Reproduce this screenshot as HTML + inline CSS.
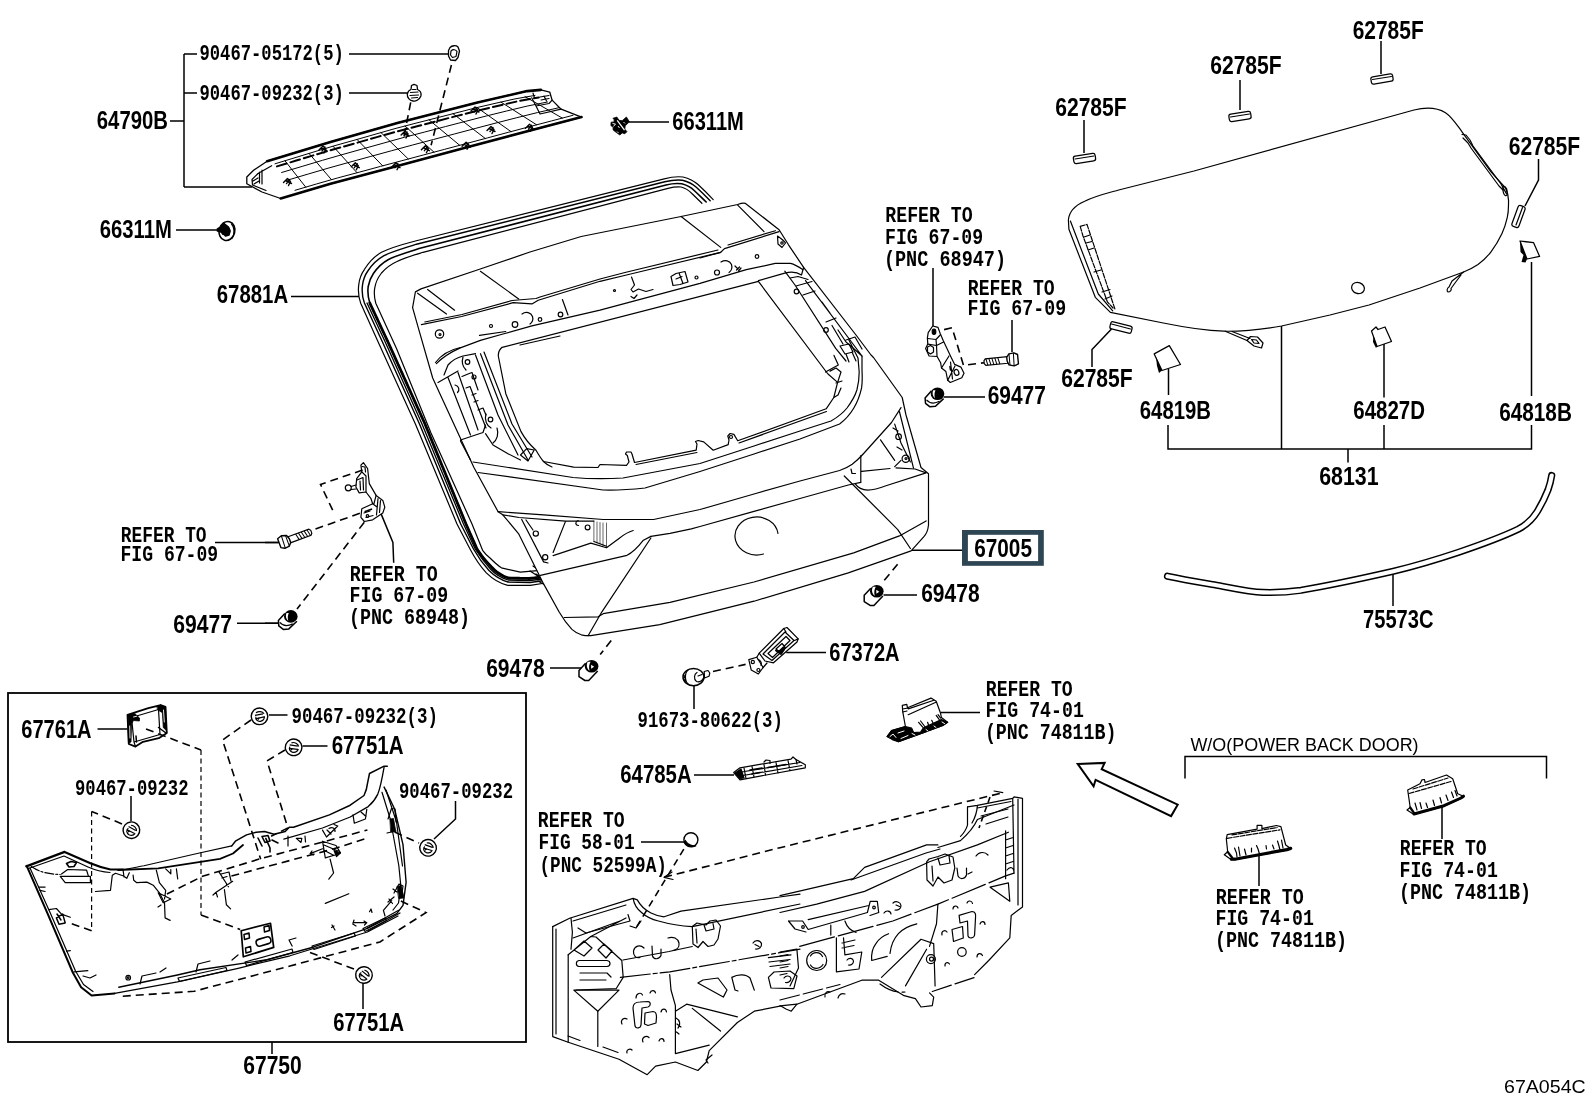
<!DOCTYPE html>
<html><head><meta charset="utf-8"><title>67A054C</title>
<style>
html,body{margin:0;padding:0;background:#fff;}
body{position:relative;width:1592px;height:1099px;overflow:hidden;font-family:"Liberation Sans",sans-serif;}
svg{display:block;position:absolute;left:0;top:0}
text{fill:#000;}
.b{font-family:"Liberation Sans",sans-serif;font-weight:bold;}
.s{font-family:"Liberation Mono",monospace;font-weight:bold;}
.r{font-family:"Liberation Sans",sans-serif;}
.l{fill:none;stroke:#000;stroke-width:1.5;}
.a{fill:none;stroke:#000;stroke-width:1.2;stroke-linejoin:round;stroke-linecap:round;}
.a2{fill:none;stroke:#000;stroke-width:1.6;stroke-linejoin:round;stroke-linecap:round;}
.d{fill:none;stroke:#000;stroke-width:1.6;stroke-dasharray:8 5;}
.w{fill:#fff;stroke:#000;stroke-width:1.25;stroke-linejoin:round;}
.k{fill:#000;stroke:none;}
</style></head>
<body>
<svg width="1592" height="1099" viewBox="0 0 1592 1099">
<rect x="0" y="0" width="1592" height="1099" fill="#fff"/>
<!-- 05_defs.svg -->
<defs>
<g id="pclip">
<circle r="8.3" fill="#fff" stroke="#000" stroke-width="1.4"/>
<path d="M-3.500,-3.500C-1,-5.500 3,-5 4.500,-2.500M-4.500,-1L3.500,-2.500M-4,2.500L4.500,0.500M-3.500,0.500C-4.500,3 -2,5.500 1,5C3.500,4.500 5,2.500 5,0" fill="none" stroke="#000" stroke-width="1.2"/>
<path d="M-3,2L0,1.300L-1,4Z" fill="#000"/>
</g>
<g id="grom">
<path d="M-6,-3L-12.600,4.100L-12.600,10.400L-6.700,14.200L-2.900,14.200L6.100,4.800" fill="#fff" stroke="#000" stroke-width="1.500" stroke-linejoin="round"/>
<ellipse rx="6.800" ry="6.300" fill="#000"/>
<path d="M-3.800,-4.500C-5.500,-2 -5,2.500 -2,4.500C-3,1.500 -2.500,-2 -1,-4.500Z" fill="#fff"/>
<path d="M-0.500,-1.500L2.500,0.500L-0.500,2.500Z" fill="#fff"/>
</g>
<g id="grom2">
<path d="M-6,-3L-12.400,4.100L-12,9.500L-7.500,13L-2,12.500L6.100,4.800" fill="#fff" stroke="#000" stroke-width="1.500" stroke-linejoin="round"/>
<path d="M-11,6C-8,9.500 -3,10 2,7.500" fill="none" stroke="#000" stroke-width="1.200"/>
<ellipse rx="6.800" ry="6.300" fill="#000"/>
<path d="M-4.300,-3.500C-5.500,-1 -5,2.500 -2.500,4.500C-3.500,1.500 -3,-1.500 -2,-3.500Z" fill="#fff"/>
</g>
<g id="bolt">
<path d="M5,-3.300L27,-3.300L28.500,-1.500L28.500,1.500L27,3.300L5,3.300Z" fill="#fff" stroke="#000" stroke-width="1.200"/>
<path d="M13,-3.300L14.500,3.300M16,-3.300L17.500,3.300M19,-3.300L20.500,3.300M22,-3.300L23.500,3.300M25,-3.300L26.500,3.300" stroke="#000" stroke-width="1" fill="none"/>
<path d="M-5.500,-5L-1,-6.500L4,-5L5.500,-1L5.500,3L3,6L-2,6.500L-5.500,4.500Z" fill="#fff" stroke="#000" stroke-width="1.400" stroke-linejoin="round"/>
<path d="M-1,-6.500L-1.500,6.500M3,-5.500L3,6" stroke="#000" stroke-width="1" fill="none"/>
</g>
</defs>

<!-- 10_leaders.svg -->
<g id="leaders" class="l">
<path d="M184,54V187M184,54H197M184,93H197M170,121H184M184,187H252"/>
<path d="M349,54H448M349,93H408M176,230H218M629,122H669M291,296.5H359"/>
<path d="M1084,120V153M1240,80V110M1381,41V74M1538.5,159V180L1525,206M1092,367V349.5L1111.5,329"/>
<path d="M933,268V326M1012,320V352M943.5,397H985"/>
<path d="M1168.5,369V395M1168,425V449H1531.5V425M1531.5,396V262M1384,341V397.5M1384,425V449M1281.5,326V449M1348,449V462.5"/>
<path d="M911,550.3H962M883.5,595H917M1393,575V606M215,542.5H279M237,623.3H279M550,668H582"/>
<path d="M694,685V709M694,775H734M941,712.5H980M641,842H684"/>
<path d="M1185,778.500V756.500H1546.500V778.500M1259,850V886M1442,804V839"/>
<path d="M272,1042V1054M97.5,729H127.5M269,715H287.5M302.5,746H327.5M131,796V821M455.5,801V819L434,839M363,982.5V1009"/>
</g>
<rect x="8" y="693" width="518" height="349" fill="none" stroke="#000" stroke-width="1.8"/>
<rect x="962" y="530" width="81.800" height="35.800" fill="#2e4553"/><rect x="967.900" y="534.800" width="70.200" height="26.300" fill="#fff"/>

<!-- 20_glass.svg -->
<g id="glass" class="a">
<!-- outer outline -->
<path d="M1068.4,220C1069,212 1074,206 1084.7,201.3C1095,196 1108,193 1118.7,190L1194,171L1414,110C1424,107.5 1436,107 1445.5,112.7C1452,117 1457,125 1462,131.8L1491,171.8L1505.5,188C1508,193 1508.8,198 1508.5,202.7C1508.6,208 1508.3,213 1507.3,217.3C1506,223 1504.5,228 1502,233.6C1499,240 1495.5,246 1491,251.8C1487,257 1483,261 1478,264.5C1473.5,267.5 1469,270 1463.6,272L1420,288L1369,305L1330,315L1281.5,326C1262,329.5 1243,331.5 1223.7,331.2C1203,330.5 1183,327 1163.3,323L1110.4,312.4L1095.3,297.3L1068.9,229.3Z"/>
<path d="M1070.4,221L1098.3,294L1112.7,310.8"/>
<!-- left inner strip -->
<path d="M1080.2,226.3L1087,224.4L1115,309.3M1080.2,226.3L1083,236L1107.4,301.8L1113,308" stroke-dasharray="5 1.5"/>
<path d="M1084,237L1090,235M1086,243L1092,241.5M1088,250L1094,248M1094,272L1101,270M1102,292L1110,289.5M1105,299L1112,296"/>
<!-- hole -->
<ellipse cx="1358" cy="288" rx="6.5" ry="5.5" transform="rotate(20 1358 288)"/>
<!-- right-edge wire -->
<path d="M1462,134.5L1466,135L1470,140L1473,146L1501,184L1506.4,193.6M1463,138L1468,143L1471,148L1499,186L1503,190"/>
<path d="M1503,186C1506,186 1508,190 1507,195C1505,197 1502.5,194 1503,186Z"/>
<!-- bottom-right wire -->
<path d="M1463.6,272L1452,281L1449,287M1461,275L1455,283L1451,288.5M1449,287C1447,288 1446.5,291 1448,292C1450,292 1452,290 1451,288.5"/>
<!-- bottom-left wire + connector -->
<path d="M1225.2,331.2L1247,340.5M1232,331.5L1250,338.5"/>
<path d="M1247,340.5L1250.5,336.5L1257.5,337L1263,343L1261.5,348L1254,346Z"/>
<path d="M1251.5,339.5L1256.5,340L1259,343.5L1254,343Z"/>
</g>
<g id="spacers" class="w">
<rect x="-11" y="-3.7" width="22" height="7.4" rx="2.2" transform="translate(1084.5,158.5) rotate(-9)"/>
<rect x="-11" y="-3.7" width="22" height="7.4" rx="2.2" transform="translate(1240,116.5) rotate(-9)"/>
<rect x="-11" y="-3.7" width="22" height="7.4" rx="2.2" transform="translate(1382,79) rotate(-10)"/>
<rect x="-11" y="-3.7" width="22" height="7.4" rx="2.2" transform="translate(1518.5,216.5) rotate(-70)"/>
<rect x="-11" y="-3.7" width="22" height="7.4" rx="2.2" transform="translate(1121,327.5) rotate(14)"/>
</g>
<g class="a">
<path d="M1075,159L1094,156M1230.500,117L1249.500,114M1372.500,79.500L1391.500,76.500M1516,225L1522.500,207.500M1111.500,324L1130.500,329"/>
</g>
<!-- glass clips -->
<g id="gclips">
<path class="w" d="M1154.2,353.9L1169.3,345.6L1180.5,364.5L1162,370.5Z"/>
<path class="k" d="M1156,357L1162,370.500L1159,373L1157,366Z"/>
<path class="w" d="M1371.5,331L1376,327L1378,329.5L1385,327L1391.500,341.500L1377,346.500Z"/>
<path class="k" d="M1373.5,335.5L1377,346.500L1376,348L1373,342Z"/>
<path class="w" d="M1520,241L1533.600,242.700L1539.600,256.400L1527,259Z"/>
<path class="k" d="M1520,241L1527,259L1525.500,262.500L1521.500,262L1523.500,255L1520.500,252Z"/>
</g>

<!-- 30_moulding.svg -->
<g id="moulding" fill="none" stroke-linecap="round" stroke-linejoin="round">
<path id="mpath" d="M1167.5,576.2C1183,579.500 1198,582 1214.300,584.800C1232,588 1248,592 1263,592.400C1277,592.800 1289,592 1301,590.300C1332,585 1362,578.500 1393.400,571.300C1415,566 1437,559.500 1458.500,552.300C1480,545 1500,538 1518.200,529.200C1527,524.500 1533,518.500 1537.200,511.600C1541.500,504.500 1545,497.500 1548,489.900C1549.800,485 1551,480 1551.700,475.500" stroke="#000" stroke-width="7.2"/>
<path d="M1167.5,576.2C1183,579.500 1198,582 1214.300,584.800C1232,588 1248,592 1263,592.400C1277,592.800 1289,592 1301,590.300C1332,585 1362,578.500 1393.400,571.300C1415,566 1437,559.500 1458.500,552.300C1480,545 1500,538 1518.200,529.200C1527,524.500 1533,518.500 1537.200,511.600C1541.500,504.500 1545,497.500 1548,489.900C1549.800,485 1551,480 1551.700,475.500" stroke="#fff" stroke-width="4.2"/>
</g>

<!-- 40_weatherstrip.svg -->
<g id="wstrip" class="a">
<!-- outer -->
<path d="M545.4,583L530.3,585.4L507.7,585.4C500,583.5 492,578.5 486.3,572.9C480,566 474.5,557.5 470,549L457,524L415.4,423.9L377.7,340.9L360.7,303.2C358.5,297 358,290 358.8,284.4C359.5,278 361.5,273.5 364.5,269.3C369,262 374,256.500 381.5,252.3C392,247 404,244 415.4,241L664.2,178.8C671,177 677,176.300 683,177C689,178.500 694,181 698,184.500C703.500,189.500 708.500,194.500 713.2,199.6"/>
<path d="M544.5,580.5L530,582.5L508,582C501,580 494,575.500 489,570.500C483,564 478,557 473.500,549L460.700,524L419.500,424L382,341L364.400,303C362.200,297 361.800,290.500 362.500,285.200C363.200,279.500 365,275 367.800,271C372,264.500 377,259.500 384,255.600C394,251 405,248 416.500,244.200L664.800,181.800C671,180.200 677,179.500 682.500,180.200C688,181.500 692.500,183.800 696.300,187.300C701.500,192 706,196.500 710.200,200.800" stroke-width="1.4"/>
<path d="M543,577L529,578.500L508.500,578C502,576 496.500,572.500 492,567.500C486.500,562 481.500,556 477,549L466,524L425,424L388,342L369.800,303C368,297.500 367.500,292 368.200,286.500C369,281.500 370.700,277.500 373.400,273.500C377.500,267.500 382,263 388.500,259.500C397.500,255 408,252.200 419,248.500L666,185C671.500,183.600 677,183.200 681.800,183.800C686.500,185 690.500,187 694.200,190.500C698.500,194.500 702.500,198.500 706.200,202" stroke-width="1.6"/>
<path d="M543,577L529,578.500L508.500,578C502,576 496.500,572.500 492,567.500C486.500,562 481.500,556 477,549L466,524L425,424L388,342L369.800,303" stroke-width="2.800" stroke-dasharray="7 1"/>
<path d="M543.500,579L529.500,580.500L508.200,580C501.500,578 495,574 490.500,569C485,563 480,556.500 475.200,549L463.500,524L422,424L385,341.500L367,303" stroke-width="1.300"/>
<!-- inner -->
<path d="M540.4,570.4L520.3,572.2L501.4,567.8C497,565 493.500,561.500 490,558C487,555.500 484.500,553 482.600,550.300L472,524L431,433L396.500,348.500L375.800,303.200C374.200,298 374,293 374.700,288.200C375.500,282.500 378,277.500 381.500,273C386,268 390.500,264.500 396.500,261.800C405,257.500 414,255 423,252.300L668,188.300C672.500,187.200 677,186.600 681,187C685.500,188 689,190.500 692.400,194L701.900,203.300"/>
<path d="M533,566L546,575M536,574L550,583M530,571L544,580M538,581L552,589" stroke-width="1.2"/>
</g>

<!-- 50_door_a.svg -->
<g id="door" class="a">
<!-- outline -->
<path fill="#fff" d="M415.4,291.9L421,288.9L479.5,269.3L530,252L581.2,236.5L681.1,216.5L737.7,204.5C740.500,203.500 743,203 745.2,203.3L779.1,229.7L788.5,244.8L803.6,267.4L856,335L871,355L873.5,357.5L902.2,397.5L906,415L921,467.5L928.5,473.7L928.5,525C928,530 926.500,534 923.7,536.8L911.1,550.9L848.3,572.9L754.1,601.2L659.8,624.7L590.8,635.7C587,635.800 584,635.500 581.3,634.8C577.500,633.500 574.500,631.800 571.9,629.4C567,624 563,618.500 559.3,612.2L543.6,583.9L518.5,533.6L502.8,514.8L498.1,511.7L473.8,467.2L439.9,393.7L432.7,378L417.6,325.3L412.6,307.7Z"/>
<!-- top panel creases -->
<path d="M417.6,293.2L446.5,314M427.6,289.5L454.6,310.2M480.4,271.3L518.7,298.9M681.1,216.5L720.7,247.4M737.7,205.2L764,231.6"/>
<!-- line A (double) : lower edge of top panel -->
<path d="M421.4,324.6L461.6,316.5L513,302.7L531.9,303.9L538.2,300.2L600,281.3L626.5,275L720.7,252.3L724.5,248.6L779.1,231.6"/>
<path d="M424.8,322L462,314.5L512,300.5L536,298.5L540,297L600,279L625,272.500L718,250M728,245L775.400,230.700"/>
<!-- band: small holes and marks -->
<path d="M479.5,335.3L505.8,331.5M562.400,299.500L568,315M560,336L520,345"/>
<circle cx="439.500" cy="334" r="4.200"/><circle cx="440" cy="334.500" r="1"/>
<circle cx="491" cy="326" r="1.500"/><circle cx="515" cy="324.500" r="2.800"/>
<path d="M522,314C526,311 531,312.500 532.500,316.500C533.500,320 532,322.500 530,324"/>
<circle cx="540" cy="319.500" r="1.800"/><circle cx="560.500" cy="314.500" r="2.300"/>
<circle cx="614.500" cy="290.500" r="1"/>
<path d="M631.500,277L634.500,285L631,289.500L633,292L638.500,289L646,291.500L653,289.500M631,296.500L634,298.500L637,295"/>
<path d="M671,276.500L676,273.500L685,271.500L688,282L680,284.500L673,285.500Z M679,273L683,283.500M676,279L682,276.500"/>
<circle cx="696.500" cy="277.500" r="1.500"/><circle cx="717" cy="272.500" r="2.500"/>
<path d="M721,262C725,259.500 730,260.500 731.500,264.500C732.500,268 731,271 729,272.500"/>
<path d="M735,266L738,269M736.500,270L739.500,267M741,268L738.500,271"/>
<circle cx="757" cy="256.500" r="1.800"/>
<path d="M777.500,236C781,238.500 784.500,241 785.500,243L782,247.500L778,244Z"/>
<circle cx="782" cy="243" r="1.200"/>
<!-- band lower line B -->
<path d="M436.4,363.6C443,357 451,352 460.3,347.9L480.4,340.4L503,334L531.9,325.9L600,310.2L700,283.3L746.3,269.7L775.3,263.4L790.5,263.4C795,264.500 799,267 803,269.700"/>
<path d="M700,258L720.700,252.300M758.400,280.600L784.800,273.100C791,271.500 797,272 801.500,275L803.600,267.400"/>
<!-- window opening -->
<path d="M758.4,281.400L502.100,347.300C499.500,349.500 498.200,352.500 498.300,356L505.800,393.700L520.900,431.400C525,439 530,445 536,450.200C538.500,454.500 541,458.500 543.500,461.500L573.700,467.200L598,467.500L600,464.500L626.500,465.300L629,462L627.300,455.500L625.500,454L626.500,452L631,452L632,454L634.500,462.500L696.200,450.200L697,444L695.500,441.500L698.100,440.500L703.700,441.900L713.200,450.200L728.200,444.600L729,440L727.800,436L730.100,433.500L733.900,434.400L737.700,440.800L826.200,408.800L833.800,397.500L837.600,382.400L828,374L826,371.500Z"/>
<path d="M825.500,372L838.300,365L834,355.400"/>
<circle cx="731" cy="437" r="1.500"/>
<path d="M543.500,461.500C546,464 549,466 552,467M636,464.500L697,452.500M739,443L826.500,411.500"/>
<!-- right pillar -->
<path d="M784.800,271.200L795,285L835.700,348.400L846,361M805.500,280.600L862,356M790,278L798,276.500L808,279.500M796,286L812,281.500M815,291L803,295M822,302L830,313M836,318L826,322M838,330L846,342L853,348L862,356M832,325.500L843,344M846,340L855,337L862,349"/>
<circle cx="796.500" cy="291.500" r="2.300"/><circle cx="826" cy="330" r="2.300"/>
<path d="M840,346L849,344L853,352L845,354ZM846,354L849,362M852,352L856,361"/>
<path d="M830,371.100L836,368L841,372L837.600,382.400M833.800,397.500L838,395L841,388M836,383L842,381"/>
</g>

<!-- 51_door_b.svg -->
<g id="door_b" class="a">
<!-- belt lines C1/C2 -->
<path d="M473,462L573,477.5C590,479 606,479 623,478L700,463.5L754,446L800,431L831,421C838,417 843,413 847,408C851.500,402 855,396 856.900,390C858.500,384 859.200,378 859.200,372L858,358L848.900,340"/>
<path d="M478,472.5L603,490C617,490.500 631,489.500 645,488L700,471.5L754,454L800,439L839.600,424C845,420 850,414.500 853.700,408.300C857.500,402 860,395 861.600,387.900C862.500,382 862.300,376 862,370L862,356"/>
<!-- L3 -->
<path d="M498.100,511.700L543.600,514.800L603.300,519.500L653.600,519.500L700,509.500L754,494L800,481L839.600,470.500C844.500,468.800 848.500,466.800 852.200,464.200C856.500,461 860,457.500 863.200,454L891.500,422.500L901,407.600"/>
<!-- L4 -->
<path d="M650.900,536.400L670,533.300L691.300,528.900L700,526.500L754,511.400L800,498.500L848.300,485L860.800,482.300"/>
<!-- right step -->
<path d="M860.800,455.600L860.800,482.300M861.600,471.300L890,468.500M896,467.800L915.100,469L926.100,472.900M855.300,483.900C858,488 862.500,490 867.900,490.200C874.500,490 880.500,487.800 886.800,485.500L926.100,472.900"/>
<path d="M851,469L852,473.500L855.500,473.500"/>
<!-- diagonal crease -->
<path d="M844.300,476L897.800,529.600L910.400,548.500"/>
<!-- L6 lower fold -->
<path d="M564.200,617.500L598.100,616.800L603.200,613.700L670,602.400L754,582L853.700,552.900L899.400,535.900L926.100,520.900"/>
<!-- left wedge lines -->
<path d="M650.900,538L601.900,611.800L588.100,635.700"/>
<path d="M540.400,575.400L627,555.300C633,552.500 638.500,546.500 643.400,540.200L650.900,536.400"/>
<!-- left recess -->
<path d="M502.800,514.800L519,517.500L565.600,521.100L593.900,521.100M521.700,519.500L543.600,561.900L548,563M526,520L533,530M565.600,521.100L553.100,552.500M553.100,555.600L590.800,543.100L606.500,547.800C611.500,544 615.500,541 619,538.400C624,534.500 628,532 633.200,530.500"/>
<circle cx="535.800" cy="533.600" r="2.600"/><circle cx="545.200" cy="557.200" r="2.600"/><circle cx="587.600" cy="527.400" r="2.400"/>
<path d="M578.200,520.500C575,521.500 575,525 578.500,525.500"/>
<path d="M593.900,521.100L593.900,541.500M597,522L597,543M600,522.500L600,544M603,523L603,545.500M606.500,523L606.500,546.200" stroke-width="0.600"/>
<path d="M593.900,541.500L606.500,546.200"/>
<!-- emblem -->
<path d="M778,533.500A21.600,19 0 1 0 763.500,554"/>
<!-- right pocket -->
<path d="M899.400,411.500L913.500,468.200M894.700,424.100L901,443L910.400,461.900M880.500,439.800L894.700,460.300M894.700,466.600L901,460.300M893,428L898,431M897,447L902,450"/>
<circle cx="898.600" cy="436.700" r="2.800"/><circle cx="905.700" cy="458.700" r="3.600"/><circle cx="906" cy="458.500" r="1"/>
<!-- left pillar -->
<path d="M435.500,362.500C442,354 451,349.500 460.500,347.500M444,375L448,365C452,360.500 457,357.500 463,356L475.500,353.700M438,382.500L458,371M448,377.500L470.500,435M458,372.500L478,430M475.500,355L498,415L518,455M480.500,353.700L508,425L528,460M484,352L512,424L532,457"/>
<path d="M460.500,440L483,432.500L485.500,425M460.500,441L470.500,460M485.500,433.700L493,445L508,453.700L520.500,460"/>
<path d="M520.500,455L526.700,448.700L534.200,450L528,461Z"/>
<path d="M462,376.500L468,374L472,372.500L478,390M466,388L470,386.500L486,428M472,395L476,393.500M478,410L483,408L486,415M474,402L478,400.500"/>
<path d="M455,385C459,386 460,390 457.500,392.500"/>
<circle cx="467.500" cy="362" r="2.300"/><circle cx="474" cy="377" r="2"/><circle cx="490.500" cy="419.500" r="2.300"/>
<path d="M463,357C461.500,362 463,367 466,370M486,414C484,420 487,426 491,428M493,443C497,440 499,434 497,428"/>
</g>

<!-- 60_garnish.svg -->
<g id="garnish" class="a">
<path fill="#fff" stroke-width="1.3" d="M267.1,161.2L253.6,170.2L246.8,177L246.8,183.8L262,192L280.7,198.5L330.5,183.8L398.3,165.7L466.1,147.6L534,129.5L581.5,117.1L561.1,109.2L552.1,100.1L549.8,92.2L540.8,89.9L527.2,91.1L477.5,102.4L398.3,122.7L330.5,141.9Z"/>
<path stroke-width="2.600" d="M267.1,161.2L330.5,141.9L398.3,122.7L477.5,102.4L527.2,91.1L540.8,89.9"/>
<path stroke-width="2.600" d="M280.7,198.5L330.5,183.8L398.3,165.7L466.1,147.6L534,129.5L581.5,117.1"/>
<path stroke-width="1.0" d="M275.0,163.8L295.0,157.7L315.0,151.6L335.0,145.6L355.0,140.0L375.0,134.3L395.0,128.6L415.0,123.4L435.0,118.3L455.0,113.2L475.0,108.0L495.0,103.4L515.0,98.9L535.0,95.4"/>
<path stroke-width="1" d="M281.6,172.5L302.1,166.4L322.5,160.3L343.0,154.4L363.4,148.7L383.9,143.0L404.3,137.3L424.8,132.0L445.3,126.6L465.7,121.3L486.2,116.0L506.6,111.0L527.1,106.1L547.5,102.0"/>
<path stroke-width="1" d="M287.4,180.2L308.3,174.0L329.1,167.9L350.0,162.1L370.8,156.4L391.7,150.7L412.6,145.0L433.4,139.5L454.3,134.0L475.1,128.5L496.0,123.0L516.8,117.7L537.7,112.5L558.6,107.8"/>
<path stroke-width="1.0" d="M295.0,190.3L316.4,184.0L337.8,177.9L359.2,172.2L380.5,166.4L401.9,160.7L423.3,155.0L444.7,149.3L466.1,143.6L487.5,137.9L508.8,132.2L530.2,126.5L551.6,120.9L573.0,115.3"/>
<path stroke-width="2" stroke-dasharray="10 4" d="M277.0,166.4L297.1,160.3L317.3,154.2L337.4,148.3L357.6,142.6L377.7,136.9L397.8,131.3L418.0,126.0L438.1,120.8L458.2,115.6L478.4,110.5L498.5,105.7L518.7,101.1L538.8,97.4"/>
<path stroke-width="1" d="M285.0,160.8L305.7,187.1M309.0,153.4L331.4,179.6M333.0,146.2L357.0,172.7M357.0,139.4L382.7,165.9M381.0,132.6L408.3,159.0M405.0,126.0L434.0,152.2M429.0,119.8L459.7,145.3M453.0,113.7L485.3,138.5M477.0,107.5L511.0,131.6M501.0,102.1L536.6,124.8M525.0,96.6L562.3,118.1"/>
<path d="M271.7,165.7L258,173.500L252,179.500L252.500,185L266,190.500M262,170L262,184M259.500,172L259.500,183M253,181L258,178M254,184L259,181"/>
<path d="M531.7,97.800L536,106L549,103.500L552.100,100.100M536,106L540,114L561.100,109.200M533,93L534.500,98M544,96L546.500,101M540,97L549,95.500M541,100L549,98.500"/>
<path stroke-width="1.4" d="M351.3,166.7L355.3,162.7L358.3,165.7L356.3,169.7M353.3,164.7L359.3,167.7M354.3,167.7L357.3,163.7"/>
<path stroke-width="1.4" d="M392.0,166.7L396.0,162.7L399.0,165.7L397.0,169.7M394.0,164.7L400.0,167.7M395.0,167.7L398.0,163.7"/>
<path stroke-width="1.4" d="M401.1,135.0L405.1,131.0L408.1,134.0L406.1,138.0M403.1,133.0L409.1,136.0M404.1,136.0L407.1,132.0"/>
<path stroke-width="1.4" d="M421.4,149.7L425.4,145.7L428.4,148.7L426.4,152.7M423.4,147.7L429.4,150.7M424.4,150.7L427.4,146.7"/>
<path stroke-width="1.4" d="M462.1,146.3L466.1,142.3L469.1,145.3L467.1,149.3M464.1,144.3L470.1,147.3M465.1,147.3L468.1,143.3"/>
<path stroke-width="1.4" d="M487.0,130.5L491.0,126.5L494.0,129.5L492.0,133.5M489.0,128.5L495.0,131.5M490.0,131.5L493.0,127.5"/>
<path stroke-width="1.4" d="M525.5,128.2L529.5,124.2L532.5,127.2L530.5,131.2M527.5,126.2L533.5,129.2M528.5,129.2L531.5,125.2"/>
<path stroke-width="1.4" d="M283.5,182.5L287.5,178.5L290.5,181.5L288.5,185.5M285.5,180.5L291.5,183.5M286.5,183.5L289.5,179.5"/>
<path stroke-width="1.4" d="M319.0,150.0L323.0,146.0L326.0,149.0L324.0,153.0M321.0,148.0L327.0,151.0M322.0,151.0L325.0,147.0"/>
<path stroke-width="1.4" d="M471.0,111.0L475.0,107.0L478.0,110.0L476.0,114.0M473.0,109.0L479.0,112.0M474.0,112.0L477.0,108.0"/>
</g>
<g class="d"><path d="M451.4,65L431.1,145.3M410.7,102.4L404,136.3"/></g>
<g id="gclip5" class="a"><path fill="#fff" stroke-width="1.3" d="M450,47.500C452,45.500 456,45 458,47L459.500,51L458,57.500L455.500,60.500L450.500,60L448.500,56L448.500,50.500Z"/><path d="M451,51C453,49 456,49.500 457,51.500L456,56.500L452.500,57.500L450.500,55Z"/></g>
<g id="gclip3" class="a"><path fill="#fff" stroke-width="1.3" d="M411,89.500L411.500,85.500L414,84.300L417,85.500L417.500,89.500C420,90.500 421.500,93 420.900,96C419.500,99.500 416,101.500 413,101C409.500,100.500 407,97.500 407.300,94C407.800,91.500 409,90.200 411,89.500Z"/><path stroke-width="1.2" d="M410.500,92.500L418,92M410,95.500L418.500,95M411.500,98L417.500,97.500M412.500,89.500L416,89.500"/></g>
<!-- 70_hinges.svg -->
<g id="hingeL" class="a" stroke-width="1.2">
<path fill="#fff" d="M363.400,462.600L367.600,468.500L369.300,483.600L376.100,495.400L382.800,500.400L384.800,507.200L382.800,513L372.700,519.800L364.300,521.500L360.900,517.300L361.800,508.800L372.700,503.800L371,498.700L366,492L359.200,492.900L355.900,487L356.700,478.600L361.800,471.800L360.900,465.100Z"/>
<path d="M362,466.500L365,467L365.500,472M361.800,471.800L366,476L366,492M357,480L363,477.500L363.500,490M360,481L360.500,490M376.100,495.400L374,503.500M378,498.500L376.500,515M380.500,500.500L379.500,512.500M372.700,503.800L377,507M364,513L370,511M366,517.500L373,515.500"/>
<circle cx="348.300" cy="487.800" r="3" fill="#fff"/><path d="M351,486.500L356,485M351,489.500L356,489"/>
<circle cx="367.500" cy="516" r="1.300"/>
</g>
<path class="d" d="M362.600,470.100L320.500,484.400L334.800,514.700M315.500,529L372.700,508.800M364.300,522.300L297,609"/>
<path class="l" d="M381.100,513.900L392.900,542.500L393.700,562.700M265,542.500H278M265,623.300H279"/>
<use href="#bolt" transform="translate(284.500,541.500) rotate(-20)"/>
<use href="#grom2" transform="translate(290.800,616.400)"/>
<g id="hingeR" class="a" stroke-width="1.300">
<path fill="#fff" d="M928.200,332.700L932.700,326L938,327.400L940.200,333.500L943.200,340.600L951.200,357.400L954.700,364.400L960.900,367.100L964,373.300L961.800,377.700L950.300,382.500L947.700,380.300L945.900,371.500L941.500,368L940.600,362.700L937.100,356.500L929.100,356L925.600,348.500L927.800,344.100L927.400,337.900Z"/>
<ellipse cx="934" cy="331.800" rx="1.800" ry="2.600" fill="#000"/>
<path d="M927.800,338.500L936,339.500L940.200,335M936,339.500L936.500,345.500L943.500,342M927.800,344.100L936.500,345.500L937,356M941.500,368L949,356M947.700,380.300L955,366M950.500,362L952.500,379"/>
<path d="M927.500,347L930.500,345.500L933.500,347.500L933.500,352L930.500,354L927.500,352Z"/>
<ellipse cx="956.500" cy="372.400" rx="2.300" ry="3" transform="rotate(-20 956.500 372.400)"/>
<path d="M950,366.500L950.500,370" stroke-width="1.600"/>
</g>
<path class="d" d="M944.100,329.600L952.100,327.800L963.500,365.300L984,362.700" stroke-dasharray="8 5"/>
<use href="#bolt" transform="translate(1012.500,359.500) rotate(174.500)"/>
<use href="#grom2" transform="translate(937.500,393.800)"/>
<use href="#grom" transform="translate(876.800,591.200)"/>
<use href="#grom" transform="translate(591.600,666.300)"/>
<path class="d" d="M884.300,580.300L897.600,564.300M611.200,640.400L600.200,654.600" stroke-dasharray="7 5"/>

<!-- 80_trim.svg -->
<g id="trim" class="a">
<!-- top edge thick -->
<path stroke-width="2.200" d="M26.300,866.400L64.600,851.900L90.400,863.200C97,866 104,868 110.500,869.500L123,869.500"/>
<path stroke-width="1.100" d="M123,869.500C130,868.500 137,867 143.900,865.800L198.300,853.200L231.800,845.900"/>
<path stroke-width="1.800" d="M118,870L158.200,868.300L220,858.800L233,853.500L243,845"/>
<path stroke-width="1.500" d="M231.800,845.900L235.400,841.200L246.500,834.900L256.200,832.200L264.500,831.500L274.100,834.200L285.200,831.500L289.300,827.300L293.500,827.300L329.400,814.900L350.200,805.200L364,795.500C366,791.500 367,788 367.400,783.900L369.500,773.500L384.100,766.200L387.300,766.200"/>
<path d="M283.800,839.100L322.500,828L350.200,817L368.200,806.600C372.500,803 375.500,799 377.800,794.100C380,789 381.500,782 384.100,767.200" stroke-width="1.300"/>
<path d="M28.500,868.500L64,856L88,867C96,870.500 103,872 110,872.500"/>
<!-- left edge thick double -->
<path stroke-width="2" d="M26.700,865.800L47.700,913.900L72.800,972.500L81.100,987.200L91.600,995.500L114.600,993.400"/>
<path d="M30,868L50.500,913.500L75.500,971L83.500,984.500L93,991.500"/>
<!-- right edge -->
<path stroke-width="1.400" d="M384.100,787.100L394.600,809L403,844.600L406.100,882.300L403,905.300L396.700,913.700L367.400,928.300L313,947.200L267,959.700L200,969.800L177.400,975L118.800,987.200"/>
<path d="M382,792.300L390.400,819.500L398.800,865.500L400.900,886.500L398.500,903L393,910M386,790L396.500,822L402.500,866"/>
<path d="M114.600,993.400L177.400,981.900L238.100,968.300L290,955.800L367.400,932L398,916"/>
<!-- lower trim strips -->
<path d="M312,946L354,933L355.500,936L314,949.500ZM363,928.500L385,918L386.500,920.500L365,931.500ZM245,962L292,949L293,952.500L246.500,965.500ZM178,978L226,967.500L227,970.500L179.500,981.500Z"/>
<!-- interior features -->
<path d="M31.300,866.400C36,869.500 40,871.500 45.100,872.700C50,873.800 55,874.300 60.200,874.500" stroke-dasharray="9 2 2 2"/>
<path d="M60.200,876.400L90.400,876.400L90.400,882.700L65.200,882.700ZM61.500,874L67.700,869.500L86.600,870.200L88.500,876.400"/>
<path stroke-width="1.600" d="M66.500,863.500L71,861.500L76.500,862.500L74,866.500L69,867Z"/>
<path d="M95.400,891.500L110.500,890.300L112.300,875.200L115.500,873.300L123,875.800L126.800,878.300L129.300,872.700M123,869.500L124,877"/>
<path d="M133.100,875.200L133.700,880.200L136.800,882.700L146.900,882.100L153.200,885.200L159.400,892.800L164.500,902.800L165.100,917.900L170.100,920.400"/>
<path d="M156.300,870.200L159.400,882.700L165.700,890.300L164.500,899M158.200,892.800L170.800,899L163.200,902.800ZM161,905L158,907M165.700,868.900L170.800,873.900L170.800,869.500M176.400,868.900L177.700,878.900"/>
<path d="M48.900,909.700L56.400,908.500L61.500,914.100L70.300,917.300M38.800,887.100L45.100,887.100M40,890.300L45.100,891.500"/>
<path stroke-width="1.500" d="M56.400,917.900L62.700,914.100L65.200,922.900L59,924.200ZM57,914L61,920"/>
<path d="M66.500,951.200L70.300,950.600M74,971.900L87.800,970.700"/>
<circle cx="128.200" cy="977.700" r="2.300"/><circle cx="128.200" cy="977.700" r="0.800"/>
<path d="M83,976L90,978L96,975M140,984L142,976L156,973M196,972L198,964L210,961M160,972L166,968M232,960L238,955"/>
<path stroke-width="1.600" d="M262,836.500L268,835.500L270,841L265,842.500ZM265.800,838.400L270,848L270,852M258,838L262,846M272,840L278,843"/>
<path d="M296.300,838.400L301.800,838.400L301,842.500ZM288,836L288,846M305,836L305.500,842"/>
<path d="M322.500,830.100L326.500,837L337.700,826L334,824.500M327,830L331,834M329,828.500C332,826.500 335.500,828 335,831.500"/>
<path d="M322.500,841.200L325.300,857.800L335,855L340.500,852.900L336,845.500ZM310.100,853.600L322.500,848.800M312,851L310.100,853.600L313.500,855M324,845L338,851M323.500,850L334,855.500M330.100,859.100L333.600,873L328.800,879.200"/>
<path fill="#000" d="M334,850.500L340.500,852.900L336.500,856.500Z"/>
<path d="M353,814.900L354.300,823.200L365.400,819L366.800,809.400M361,812L366,816.500"/>
<path d="M218.800,871.600L228.500,886.800M216.100,892.300L232.700,881.300M224.400,889.600L226.400,904.800L230.600,908.900M221,874L229,872L231,881M213,895L216.100,892.300L217.500,897M222,878L227,876.500"/>
<path d="M325.300,903.400L348.800,893.700"/>
<path fill="#000" stroke-width="0.800" d="M390.300,819L393.500,818.500L395.800,831.500L391,832Z"/>
<path d="M388,819L391.500,808.500L395,809L396,822M387,833L396,831"/>
<path fill="#000" stroke-width="0.800" d="M397.200,886.500L401,885.400L404.100,897.900L399,898.500Z"/>
<path d="M394,893L399,884L403,886L401.500,897M388,902L394,897M393,889L397,892"/>
<path d="M383.400,910.300L391.700,900.600M389,899L392.500,903.500M383.400,910.300L385,916M353,922.700L366.800,922.700M364,921L366.800,922.700L364.500,925M354,920L352.800,924.100L356,926M369.500,911.700L371,909L372,912.500"/>
<path d="M292.100,946.100L289,940L296,938M335,930L332,925M331.500,927.500L334,926"/>
<path d="M366.800,928.300L398.600,910.300M368,931L400,913" />
<!-- cover plate 2 -->
<path fill="#fff" stroke-width="1.700" d="M241.200,930.700L270.500,923.300L273.700,947.400L243.300,956.800Z"/>
<path stroke-width="1.500" d="M244,934.500L249,933L249.500,938L244.500,939.500ZM264,927L269,925.500L269.500,930.500L264.500,932ZM245.500,948L250.500,946.500L251,951.500L246,953Z"/>
<rect x="-7.500" y="-3.500" width="15" height="7" rx="3.300" transform="translate(263.500,941.500) rotate(-17)" stroke-width="1.600"/>
<!-- cover plate 1 -->
<path fill="#fff" stroke-width="1.800" d="M127.500,714.900L148.300,708.200L160.600,705.100L165.500,706.900L166.800,733L158.800,738.200L143,741.800L135.500,746.600L128.800,744Z"/>
<path d="M131.500,717.500L158.500,709.500L160,734.500L134,742ZM134,742L135.500,746.600M158.500,709.500L160.600,705.100"/>
<path fill="#000" stroke-width="0.800" d="M157.100,706.500L160.600,705.100L165.500,706.900L166.300,730.300L163.300,727.700L162.400,712.700L158,710Z"/>
<path fill="#000" stroke-width="0.800" d="M128,715.300L134.500,713.200L139.500,718L139.400,721L133.500,720.500L131.500,724L131,742L128.800,743Z"/>
<path stroke="#fff" stroke-width="0.900" d="M133.500,717L136.500,716.300M163.500,710L164.300,722M129.700,726L130,738"/>
<path stroke-width="1.500" d="M158.500,727.500L166,733M136,736L136.500,742"/>
</g>
<!-- dashed lines in box -->
<g class="d">
<path d="M146,729L201,750M201,915L240.200,929.600"/><path d="M201,750V915" stroke-width="1.200" stroke-dasharray="5 3.500"/>
<path d="M251,720L222.500,740L260.700,859.300"/>
<path d="M285,750L267,760.900L287.900,827.900L271.100,836.300"/>
<path d="M122,823.900L91.600,811.400M91.600,930.700L67.500,922.300"/><path d="M91.600,811.400V930.700" stroke-width="1.200" stroke-dasharray="5 3.500"/>
<path d="M166.900,894L202.500,876.300L261.100,858.500L313,844.600L367.400,830M231.400,876L333.900,848.800L367.400,838"/>
<path d="M394.600,832.100L419,843M400.900,901.100L426,912.600L380,941.900L290,966L194.100,991.300L118,996.500"/>
<path d="M354,969L310,952.500"/>
</g>
<g id="pclips">
<use href="#pclip" transform="translate(259.500,716.300)"/>
<use href="#pclip" transform="translate(293.600,747.300) rotate(20)"/>
<use href="#pclip" transform="translate(131.400,830.200) rotate(40)"/>
<use href="#pclip" transform="translate(428.100,847.800) rotate(30)"/>
<use href="#pclip" transform="translate(364,975) rotate(50)"/>
</g>

<!-- 90_body.svg -->
<g id="body" class="a">
<!-- left block -->
<path d="M552.700,926.600L552.700,1036.600L568.200,1042.300L619,1059.200L647.200,1074.700L655.600,1066.200L675.400,1062L697.900,1070.500L706.400,1062L709.200,1050.700L737.400,1022.500L754.300,1011.200L782.500,1005.600L796.900,1004.200"/>
<path d="M552.700,926.600L569.600,918.200L633.100,898.400L637.300,899.900M633.100,898.400C634,904 637,909 641.500,912.500C646.500,917 652,919.500 658.400,921C669,924 680,926 692.300,926.600L800,904M637.300,899.900C640,905 645,910 651,913C655,915 659.500,916.500 664.100,916.800L681,911.100L779.700,897L800,894.200"/>
<path d="M556,929L556,1034M571,918.200L572.400,932.300L571,949.200M568.200,954.800L568.200,1042.300M597.800,1011.200L597.800,1046.500M573,921L626,905M578,928L586,933L630,921L628,914.500"/>
<path d="M573.800,990.100L597.800,1011.200L619,990.100Z"/>
<path d="M568.200,954.800L590.800,936.500L596,937L621.800,960.500L623.200,977.400L616.100,988.700L576,990M574,950L584,941L592,948L584,956ZM598,950L604,944L612,951L606,958ZM579,960.500L607,960.500C611,961 611,966 607,966.500L579,966.500C575.500,966 575.500,961 579,960.500ZM580,973L607,973L611,977M580,980L606,980"/>
<path d="M573,938L620,921M590.800,936.500L626,918"/>
<!-- beam -->
<path d="M620.400,977.400L669.700,971.800L800,949.200" stroke-dasharray="30 3 4 3"/>
<path d="M623,960L669,951.500L692.300,946.500"/>
<path d="M644,948C640,944 634.500,946 633.500,951C633,955.500 636,958.500 640,957.500M652,946L652.500,956C654,960 659,959.500 661,955.500L661,949M668,938C673,936 678,938.500 679,943C679.500,947 677,950 673,950.500"/>
<path d="M692.300,926.600L693,944L698,947.500L703,941.500L708,946.500L714,945L718,939L720.500,926L716,920L710,921L706,925L697,923ZM696,929L697,943M704,925L706,931L714,929L713,923.500"/>
<path d="M753,943C755,939.500 760,940 761.500,943.500C762,947 759,949.500 755.500,949M755,944.500L759,946.500"/>
<!-- lower left panel -->
<path d="M669.700,974.600L671,990L675.400,1005.600L675.400,1053.600L709.200,1045.100M675.400,1011.200L686.600,1004.200L737.400,1016.900M692.300,1008.400L720.500,1031"/>
<path d="M636,998C636,993 641,992 642.500,995M650,993C651,989.500 655,990 655.500,993M622,1024C620,1020 624,1017 627,1019M661,1012C662,1008 666,1008.500 666.500,1012M643,1042C641,1037.500 646,1035 649,1037.500M659,1041C660,1037.500 664,1038 664,1041.500M627,1053C626,1049.500 630,1048 632,1050"/>
<path d="M633,1008C633,1004 636,1002 640,1002L648,1001.500C651,1002 651,1006 648,1007L642,1008L641,1025C640.500,1028.500 636,1029 635,1026ZM645,1013L653,1011.500C656,1011.500 656.500,1014 656.500,1017L656,1023L648,1025.500L644.500,1024Z"/>
<path d="M676,1018C680,1020 681,1025 678,1028M677,1024L681,1027M676.500,1032L679,1034"/>
<path d="M697.900,983L723.300,997.100L727,990L718,978L703,980ZM731.800,977.400L735,990L738,991M731.800,977.400C738,974 746,974 750,978L754.300,990.100"/>
<path d="M768.400,977.400L771,988L793.800,988.700L797,976L790,971L774,972ZM784,978C786,975 790,975.500 791,978.500C791,981.500 788,983 785.500,982.500"/>
<path d="M768.400,957.700L791,954.800M769,962L790,959.500M770,966.500L790,964"/>
<path d="M603,1047L618,1052.500M568,1036L580,1040.500M712,1055L706,1060L708,1063"/>
<!-- right half: beam top -->
<path d="M780,895.600L853.300,878.700L864.600,867.400L926.600,844.900L937.900,844.900M937.900,847.500L960.500,840.600C968,834 974,827 977.400,819.500L1014,805"/>
<path d="M780,912.500L816.700,904.100L864.600,891.400L929.500,861.800L977.400,844.900L1008.400,832.200"/>
<path d="M851,880L926,853L940,849"/>
<path d="M799.700,946.400L892.800,921L937.900,904.100L1005.600,875.900L1014.100,873.100" stroke-dasharray="36 4"/>
<!-- clip on beam right -->
<path d="M926.600,861.800L927,880L933,886L938,877L944,883L952,880L954.800,868L953,857L945,854L938,856.500L929,859ZM932,866L933,881M938,858L940,865L950,863L949,856"/>
<path d="M957,868L958,876C960,880 965,879 966.500,875L966.500,868M968,874L972,872M976,856C979,851.500 985,851.500 988,855"/>
<!-- bar -->
<path d="M788.500,921L802.600,921L808.200,929.500L867.400,912.500L870.200,901.300L877.300,901.300L878.700,912.500L870,915.500M808.200,919.600L868.800,905.500M788.500,921L795,929L806,932"/>
<circle cx="803" cy="927" r="1.300"/><circle cx="874" cy="907.500" r="1.300"/>
<path d="M830.800,925.200L830.800,935.100M844.900,921C847,927 851,931 856.100,932.300M884,913C886,910 890.500,910.500 891,914M893,903C896,900.500 900.500,902 901,905.500C901,909 898,910.500 895,910M896,905L899.500,906.500"/>
<!-- lower right section -->
<path d="M780,952L796.900,949.200L798.500,968L790,986M780,956L788,954.500M780,962L788,960.500M780,968L788,966.500M780,975L787,973.500"/>
<circle cx="816.700" cy="960.500" r="10"/><path d="M810.500,956C813,951.500 820,951.500 822.500,956.500M810.500,965C813,969.500 820,969.500 823,964.500"/>
<path d="M836.400,937.900L836.400,971.800L859,969L861.800,952L844.900,954.800L843.500,937.900M847,960C849,957.500 853,958 853.500,961C853.500,964 851,965.500 848.500,965M842,943L855,940M842,948L854,945.500"/>
<path d="M871.700,960.500C871,953 873,947.500 875.900,943.600C879,938.500 883.500,935.500 888.600,933.700M871.700,960.500L887.200,956.300M890,953.400C891,945 894,938.500 898.400,933.700C903,928.500 909.500,925.500 916.800,923.800"/>
<path d="M881.500,977.400L921,939.300L933.700,943.600L935.100,985.900M905.500,985.900L926.600,949.200M937.900,904.100L936.500,923.800L929.500,946.400"/>
<circle cx="930.900" cy="959.100" r="4.500"/><circle cx="931.500" cy="959.100" r="2"/>
<path d="M780,1005.600L786,1009L791.300,1011.200L796.900,1004.200L861.800,980.200L878.700,980.200L904.100,995.700L915.400,998.600L921,1007L932.300,1005.600L933.700,997.100L929.500,992.900"/>
<path d="M780,1000L840,984.500M880,984C888,990 896,993 905,992M932.300,991.500L974.600,977.400" stroke-dasharray="20 4"/>
<path d="M825,997C824,993 827,991 830,992M838,998C839,994 842,993 845,994"/>
<!-- right side holes -->
<path d="M953,909C953,905.500 957,905 958,908M967,903C968,900 972,900.500 972.500,903.500M942,935C941,931 945,929.500 947,932M980,924C981,920.500 985,921 985,924.500M977,957C977,953 981,952.500 982.500,955.500M945,966C944.500,962.500 948,961.500 949.500,964"/>
<circle cx="961.900" cy="952" r="4.300"/>
<path d="M959.100,915.400L972,911.500C975.500,911.500 976,914.500 975.500,918L974.600,935C974,938.500 969,939 968,936L967.500,921L960,923ZM952,929.500L962.500,926.500L963.300,938L953.500,941.500Z"/>
<path d="M990.100,887.200L1008.400,882.900L1009.800,901.300Z"/>
<!-- right edge -->
<path d="M967.500,806.800L977.400,805.400L1012.700,798.300L1014.100,796.900L1022.500,798.300L1022.500,906.900L1011.200,915.400L1009.800,937.900L988.700,960.500L974.600,974.600"/>
<path d="M967.500,806.800L967.500,825.100C966,830 963.500,833.500 960.500,836.400M1012.700,798.300L1014,873M1018,799L1018,905M1005.600,830.800L1005.600,878.700M1005.600,840L1013,837.500M1005.600,848L1013,845.500M1005.600,856L1013,853.500M1005.600,864L1013,861.500M1007,870C1010,866 1014,867 1014,873"/>
<path d="M977.400,808L1011,801.500M981,816L1008,809M986,824L1008,817M977.400,805.400C977,812 975,818 972,823"/>
</g>
<g class="d">
<path d="M683.800,849.100L635.900,928.100" stroke-dasharray="7 5"/>
<path d="M664.100,877.300L780,847.700L1002.800,792.700"/>
<path d="M990,797L979,828" stroke-dasharray="6 4"/>
</g>
<path class="a" d="M664.100,877.300L672,872M664.100,877.300L673,879.500M1002.800,792.700L994,791M636,928L641,921M636,928L630,926"/>
<g id="ball"><circle cx="690.900" cy="839.800" r="7" fill="#fff" stroke="#000" stroke-width="1.400"/><path d="M684.500,842.500C687,846 692,847.500 696,845.500C693,846.500 688,845.500 685.500,841Z" fill="#000" stroke="#000" stroke-width="1.500"/></g>

<!-- 95_misc.svg -->
<!-- 66311M clips -->
<g id="c66L">
<ellipse cx="227" cy="231" rx="7.800" ry="9.600" fill="#fff" stroke="#000" stroke-width="1.600" transform="rotate(15 227 231)"/>
<path d="M231.500,224C234.500,227 235,234 232,238.500" class="a"/>
<path d="M217.400,229L221.500,226.500L224,223.500L228.500,227L230,231L229,235L225.500,236L223,232.500L217.400,231Z" fill="#000" stroke="#000" stroke-width="1.500" stroke-linejoin="round"/>
<ellipse cx="225.500" cy="231" rx="5" ry="4.500" fill="#000"/>
</g>
<g id="c66R">
<path d="M612.800,118.400L616.800,117L619.100,120.300L622.200,120.700L626.400,117L629.400,121.800L625.200,125.800L624.800,129.100L626.900,131.700L624.800,133.800L622.200,132.900L619.900,135L615.300,131.700L613,129.800L613.200,127.200L610.900,125.600L611.100,122.200L614.100,122L614.100,119.100Z" fill="#000" stroke="#000" stroke-width="0.800" stroke-linejoin="round"/>
<path d="M617.200,120.300L624.500,130.200" stroke="#fff" stroke-width="1.200" fill="none"/>
<path d="M612.500,123.500L615.500,124L613.500,126.500M618,126L619.500,128M623.500,122L625,123.500M617,131.500L618.500,133" stroke="#fff" stroke-width="0.900" fill="none"/>
</g>
<!-- 67372A -->
<g id="p67372" class="a" stroke-width="1.300">
<path fill="#fff" d="M759.200,653.200L783.800,628.500L787,627.500L798.200,638.900L797,642L773.500,662.800L765,661Z"/>
<path d="M763,654L785,632L794,640.500L772,660.500ZM768,653.500L786,636.500L790,640.500L772.500,657.500ZM776,649L782,643.500L785,647L779.500,652Z M783.800,628.500L786,632M798.200,638.900L794.500,640.500"/>
<path d="M776,650.500L781,654L784,649.500" stroke-width="2"/>
<path fill="#fff" d="M748.800,659.600L756.800,657.200L763.100,667.500L758.400,673.900L751.200,669.900Z"/>
<circle cx="752.800" cy="662" r="1.600"/><circle cx="758.400" cy="670" r="1.500"/>
<path d="M756.800,657.200L759.200,653.200M763.100,667.500L767,663M758,659.500C760.500,660 762,663 761,665.500" />
</g>
<path class="d" d="M713,671.500L745.600,664.400"/>
<path class="l" d="M786.200,652.400H826"/>
<!-- 91673 clip -->
<g id="c91673" class="a" stroke-width="1.300">
<path fill="#fff" d="M704.200,671.500L708,670.500L709.800,673L709,676.300L704.500,678Z"/>
<ellipse cx="693.500" cy="677.100" rx="10.500" ry="8.600" fill="#fff" stroke-width="1.500"/>
<path d="M688,670C684.500,673 684.500,681.500 688.500,684.500M697,672.500C694,674 693.500,679.500 696.500,681.500C699.500,682.500 703,680.500 704,677M698,676L702,674.500M683.200,675L685,676.500L683.500,679L685.500,681"/>
</g>
<!-- 64785A -->
<g id="p64785" class="a" stroke-width="1.200">
<path fill="#fff" d="M733.700,772.600L740,767.800L791,759.100L793,757L796,759.500L805.300,764.700L805.300,767.800L740,779.800Z"/>
<path d="M738,772.500L800,762.500M740,776L802,765.500M744,768L746,778.500M752,766.500L754,777M764,764.500L765.500,775M776,762.500L778,773M788,760.500L790,770.500M764,762L766,760L770,760.500L770,763.500M796,759.500L797,764" />
<path d="M735,773L740,778.500L744,778L741,769Z" fill="#000"/>
<path d="M750,770L762,768M768,767.500L786,764.500M752,774L760,772.500" stroke-width="1.600"/>
</g>
<!-- top lamp -->
<g id="lampT" class="a" stroke-width="1.400">
<path fill="#fff" d="M902.300,705.400L906.800,704.400L907.500,707.800L931,698.100L936.200,701.300L940.400,712.700L941.400,717.500L947.600,722.300L943.500,725.100L923.400,732.700L913.700,736.200L898.500,741.700L892.300,739.600L887.100,736.500L891.600,730.600L905.400,726.500L902.700,711.300Z"/>
<path fill="#000" d="M891.600,730.600L905.400,726.500L911.700,728.200L913.700,732.700L920.600,732L923.400,727.900L941.400,719.600L947.600,722.300L943.500,725.100L923.400,732.700L898.500,741.700L887.100,736.500Z"/>
<path d="M890,736.500L893,734L896,737.500M898,733L904,731M901,738.500L908,735.500M912,733.500L915,735M926,729.500L928,731M934,726L936,727.500M942,722L944.500,723.500" stroke="#fff" stroke-width="1"/>
<path d="M908.200,708.900L933.800,700.200M908.200,714.700L935.900,702.300M902.500,709L908,708M902.700,712L907,711"/>
<path d="M918.600,722.300L922.700,727.200M920.600,721L924.800,726.500M927.600,722.300L929,726.500M931.700,720.300L933.800,724.400M936.200,715.400L939.300,719.600M938,714.700L940.700,718.200" stroke-width="1.200"/>
</g>
<!-- W/O lamps -->
<g id="lampL" class="a" stroke-width="1.400">
<path fill="#fff" d="M1227.200,834.600L1257.100,829.200L1257.100,825.300L1261.900,825.300L1261.900,828.700L1276.300,825.500L1280.900,826.700L1285.700,845L1290.700,848.400L1286.800,850.100L1259.100,855.200L1234.800,859.700L1231.400,859.700L1224.300,854.700L1227.700,851.800L1226.300,838.800Z"/>
<path d="M1231.400,859.200L1234.800,859.200L1259.100,854.700L1286.800,849.600L1290.700,848.400" stroke-width="3.200"/>
<path d="M1227.200,838.300L1280,829.800M1232,834.900L1277.200,827.500" stroke-dasharray="5 1.500"/>
<path d="M1234.500,848L1236.500,853L1237,857M1238.500,847L1240,856M1244.500,849L1246,855M1251.500,848L1251.500,852M1256.500,845.500L1258,849L1259.500,854M1266,845.500L1266.500,849M1272.500,845L1274,849M1277.500,841L1279,846L1280,850M1281.500,840L1283,848" stroke-width="1.200"/>
<path d="M1227.700,851.800L1232,857.500" stroke-width="2.200"/>
</g>
<g id="lampR" class="a" stroke-width="1.400">
<path fill="#fff" d="M1407.700,790L1420,783.700L1422,779.800L1424.500,779.500L1425,782.500L1446.500,775L1452.700,778.700L1457.700,793.700L1463.500,796.200L1461,798.500L1444,806.200L1414,814.500L1407,810L1410.200,807.500Z"/>
<path d="M1414,814L1444,805.700L1461,798L1463.500,796.200" stroke-width="3"/>
<path d="M1409,793.500L1451,781.500M1413,789L1448,778" stroke-dasharray="5 1.500"/>
<path d="M1415,803L1417,810M1420,802.500L1421.500,808.500M1426,803L1427.500,807.500M1433,800L1434.500,805.500M1440,797.500L1441.500,803M1446,795L1448,800.500M1451.500,792L1453.500,797.500M1455,790.500L1457,796" stroke-width="1.200"/>
<path d="M1410.200,807.500L1414,813" stroke-width="2.200"/>
</g>
<!-- arrow -->
<path d="M1077.700,763.900L1104.600,762.900L1101.700,769.200L1177.700,804.700L1171.100,816.100L1095.600,779.800L1093.600,786.300Z" fill="#fff" stroke="#000" stroke-width="2" stroke-linejoin="miter"/>

<g id="labels" style="filter:grayscale(1)">
<text class="b" x="96.8" y="129.0" font-size="26.3" textLength="71.2" lengthAdjust="spacingAndGlyphs">64790B</text>
<text class="b" x="99.8" y="238.0" font-size="26.3" textLength="72.1" lengthAdjust="spacingAndGlyphs">66311M</text>
<text class="b" x="672.3" y="130.0" font-size="26.3" textLength="71.5" lengthAdjust="spacingAndGlyphs">66311M</text>
<text class="b" x="216.8" y="302.5" font-size="26.3" textLength="71.3" lengthAdjust="spacingAndGlyphs">67881A</text>
<text class="b" x="1055.2" y="115.5" font-size="26.3" textLength="71.5" lengthAdjust="spacingAndGlyphs">62785F</text>
<text class="b" x="1210.2" y="74.0" font-size="26.3" textLength="71.5" lengthAdjust="spacingAndGlyphs">62785F</text>
<text class="b" x="1352.7" y="38.5" font-size="26.3" textLength="71.0" lengthAdjust="spacingAndGlyphs">62785F</text>
<text class="b" x="1508.7" y="155.0" font-size="26.3" textLength="71.5" lengthAdjust="spacingAndGlyphs">62785F</text>
<text class="b" x="1061.2" y="386.5" font-size="26.3" textLength="71.5" lengthAdjust="spacingAndGlyphs">62785F</text>
<text class="b" x="987.7" y="404.0" font-size="26.3" textLength="58.2" lengthAdjust="spacingAndGlyphs">69477</text>
<text class="b" x="1139.8" y="419.0" font-size="26.3" textLength="71.2" lengthAdjust="spacingAndGlyphs">64819B</text>
<text class="b" x="1353.3" y="419.0" font-size="26.3" textLength="71.6" lengthAdjust="spacingAndGlyphs">64827D</text>
<text class="b" x="1499.2" y="421.0" font-size="26.3" textLength="72.7" lengthAdjust="spacingAndGlyphs">64818B</text>
<text class="b" x="1319.2" y="484.5" font-size="26.3" textLength="59.4" lengthAdjust="spacingAndGlyphs">68131</text>
<text class="b" x="974.2" y="556.8" font-size="26.3" textLength="57.8" lengthAdjust="spacingAndGlyphs">67005</text>
<text class="b" x="921.2" y="602.0" font-size="26.3" textLength="58.4" lengthAdjust="spacingAndGlyphs">69478</text>
<text class="b" x="1363.1" y="628.0" font-size="26.3" textLength="70.4" lengthAdjust="spacingAndGlyphs">75573C</text>
<text class="b" x="173.2" y="632.5" font-size="26.3" textLength="58.7" lengthAdjust="spacingAndGlyphs">69477</text>
<text class="b" x="486.2" y="677.0" font-size="26.3" textLength="58.4" lengthAdjust="spacingAndGlyphs">69478</text>
<text class="b" x="829.3" y="660.5" font-size="26.3" textLength="70.3" lengthAdjust="spacingAndGlyphs">67372A</text>
<text class="b" x="21.3" y="737.5" font-size="26.3" textLength="70.3" lengthAdjust="spacingAndGlyphs">67761A</text>
<text class="b" x="331.7" y="754.0" font-size="26.3" textLength="71.8" lengthAdjust="spacingAndGlyphs">67751A</text>
<text class="b" x="620.3" y="782.5" font-size="26.3" textLength="71.3" lengthAdjust="spacingAndGlyphs">64785A</text>
<text class="b" x="333.3" y="1030.5" font-size="26.3" textLength="70.8" lengthAdjust="spacingAndGlyphs">67751A</text>
<text class="b" x="243.2" y="1074.0" font-size="26.3" textLength="58.6" lengthAdjust="spacingAndGlyphs">67750</text>
<text class="s" x="199.5" y="60.0" font-size="21.7" textLength="144.3" lengthAdjust="spacingAndGlyphs">90467-05172(5)</text>
<text class="s" x="199.5" y="99.5" font-size="21.7" textLength="144.3" lengthAdjust="spacingAndGlyphs">90467-09232(3)</text>
<text class="s" x="885.3" y="222.0" font-size="22.1" textLength="87.4" lengthAdjust="spacingAndGlyphs">REFER TO</text>
<text class="s" x="885.0" y="244.0" font-size="22.1" textLength="98.1" lengthAdjust="spacingAndGlyphs">FIG 67-09</text>
<text class="s" x="883.9" y="265.5" font-size="22.1" textLength="122.2" lengthAdjust="spacingAndGlyphs">(PNC 68947)</text>
<text class="s" x="967.8" y="294.5" font-size="22.1" textLength="86.8" lengthAdjust="spacingAndGlyphs">REFER TO</text>
<text class="s" x="967.5" y="314.5" font-size="22.1" textLength="98.6" lengthAdjust="spacingAndGlyphs">FIG 67-09</text>
<text class="s" x="120.8" y="541.5" font-size="22.1" textLength="85.8" lengthAdjust="spacingAndGlyphs">REFER TO</text>
<text class="s" x="120.5" y="561.0" font-size="22.1" textLength="97.6" lengthAdjust="spacingAndGlyphs">FIG 67-09</text>
<text class="s" x="349.8" y="581.0" font-size="22.1" textLength="87.9" lengthAdjust="spacingAndGlyphs">REFER TO</text>
<text class="s" x="349.5" y="601.5" font-size="22.1" textLength="98.6" lengthAdjust="spacingAndGlyphs">FIG 67-09</text>
<text class="s" x="348.9" y="623.5" font-size="22.1" textLength="121.2" lengthAdjust="spacingAndGlyphs">(PNC 68948)</text>
<text class="s" x="291.5" y="723.0" font-size="21.7" textLength="146.4" lengthAdjust="spacingAndGlyphs">90467-09232(3)</text>
<text class="s" x="75.0" y="795.0" font-size="21.7" textLength="113.5" lengthAdjust="spacingAndGlyphs">90467-09232</text>
<text class="s" x="399.0" y="798.0" font-size="21.7" textLength="114.0" lengthAdjust="spacingAndGlyphs">90467-09232</text>
<text class="s" x="637.5" y="726.5" font-size="21.7" textLength="145.4" lengthAdjust="spacingAndGlyphs">91673-80622(3)</text>
<text class="s" x="985.8" y="695.5" font-size="22.1" textLength="86.8" lengthAdjust="spacingAndGlyphs">REFER TO</text>
<text class="s" x="985.5" y="717.0" font-size="22.1" textLength="98.3" lengthAdjust="spacingAndGlyphs">FIG 74-01</text>
<text class="s" x="984.9" y="739.0" font-size="22.1" textLength="131.6" lengthAdjust="spacingAndGlyphs">(PNC 74811B)</text>
<text class="s" x="537.8" y="826.5" font-size="22.1" textLength="86.8" lengthAdjust="spacingAndGlyphs">REFER TO</text>
<text class="s" x="538.5" y="849.0" font-size="22.1" textLength="96.2" lengthAdjust="spacingAndGlyphs">FIG 58-01</text>
<text class="s" x="539.5" y="871.5" font-size="22.1" textLength="127.4" lengthAdjust="spacingAndGlyphs">(PNC 52599A)</text>
<text class="s" x="1215.8" y="903.5" font-size="22.1" textLength="87.9" lengthAdjust="spacingAndGlyphs">REFER TO</text>
<text class="s" x="1215.5" y="925.0" font-size="22.1" textLength="98.3" lengthAdjust="spacingAndGlyphs">FIG 74-01</text>
<text class="s" x="1214.9" y="947.0" font-size="22.1" textLength="132.2" lengthAdjust="spacingAndGlyphs">(PNC 74811B)</text>
<text class="s" x="1399.8" y="855.0" font-size="22.1" textLength="86.8" lengthAdjust="spacingAndGlyphs">REFER TO</text>
<text class="s" x="1399.5" y="877.0" font-size="22.1" textLength="98.3" lengthAdjust="spacingAndGlyphs">FIG 74-01</text>
<text class="s" x="1398.9" y="899.0" font-size="22.1" textLength="132.2" lengthAdjust="spacingAndGlyphs">(PNC 74811B)</text>
<text class="r" x="1190.4" y="750.8" font-size="18.6" textLength="228.2" lengthAdjust="spacingAndGlyphs">W/O(POWER BACK DOOR)</text>
<text class="r" x="1504.0" y="1092.5" font-size="19.2" textLength="81.7" lengthAdjust="spacingAndGlyphs">67A054C</text>
</g>
</svg>
</body></html>
